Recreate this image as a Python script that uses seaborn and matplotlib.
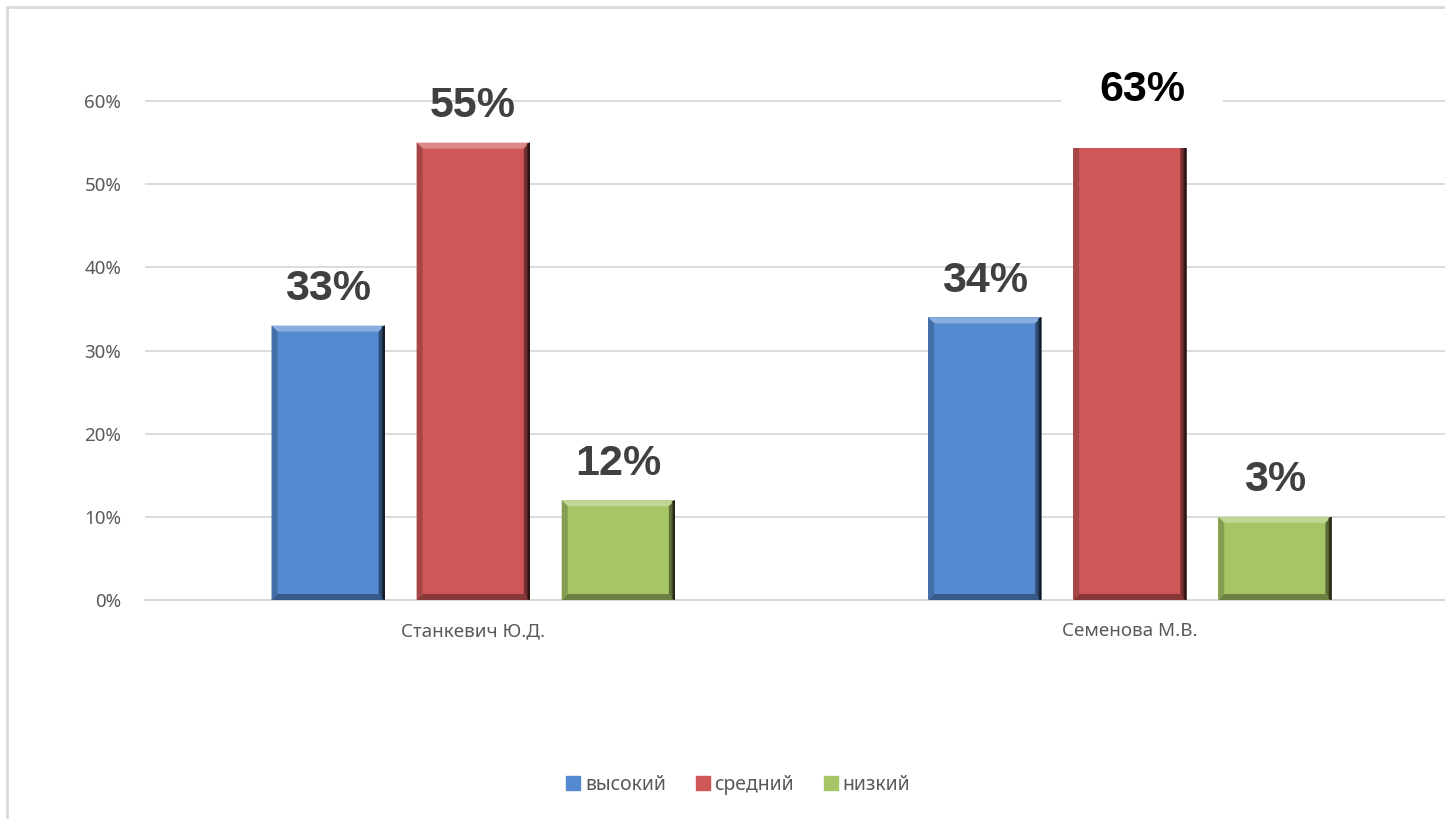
import matplotlib
matplotlib.use('Agg')
import matplotlib.pyplot as plt
import seaborn as sns
import pandas as pd
from matplotlib.patches import Polygon, Rectangle
from matplotlib.lines import Line2D
from matplotlib.transforms import IdentityTransform
from matplotlib.ticker import PercentFormatter
from matplotlib.colors import to_rgb

teachers = ['Станкевич Ю.Д.', 'Семенова М.В.']
levels = ['высокий', 'средний', 'низкий']
# bar heights as drawn, percent
vysokiy = [33, 34]
sredniy = [55, 63]
nizkiy = [12, 10]
# data labels as printed on the chart
label_text = [['33%', '34%'], ['55%', '63%'], ['12%', '3%']]
colors = ['#558AD0', '#CF5757', '#A6C566']
yticks = [0, 10, 20, 30, 40, 50, 60]

df = pd.DataFrame({
    'teacher': teachers * 3,
    'level': [lv for lv in levels for _ in teachers],
    'value': vysokiy + sredniy + nizkiy,
})

sns.set_style('white')
plt.rcParams['font.family'] = ['Noto Sans', 'DejaVu Sans']
grey = '#595959'
line_grey = '#D9D9D9'

fig = plt.figure(figsize=(14.45, 8.19), dpi=100)
ax = fig.add_axes([0.1003, 0.2674, 0.9087, 0.660])

sns.barplot(data=df, x='teacher', y='value', hue='level', palette=colors,
            width=0.663, gap=0.22, saturation=1, legend=False, ax=ax,
            edgecolor='none', zorder=2)

ax.set_xlim(-0.5, 1.5)
ax.set_ylim(0, 65)
ax.set_yticks(yticks)
ax.yaxis.set_major_formatter(PercentFormatter(decimals=0))
ax.grid(axis='y', color=line_grey, lw=1.3, zorder=0)
ax.set_axisbelow(True)
for s in ['top', 'right', 'left']:
    ax.spines[s].set_visible(False)
ax.spines['bottom'].set_color(line_grey)
ax.spines['bottom'].set_linewidth(1.5)
ax.set_xlabel('')
ax.set_ylabel('')
ax.tick_params(axis='y', length=0, pad=17, labelsize=13.5, labelcolor=grey)
ax.tick_params(axis='x', length=0, pad=16, labelsize=13.5, labelcolor=grey)
ax.set_xticks([-0.5, 0.5, 1.5], minor=True)
ax.tick_params(axis='x', which='minor', length=7, width=1.5, color=line_grey)

# data labels
anns = []
for i, cont in enumerate(ax.containers):
    a = ax.bar_label(cont, labels=label_text[i], padding=12, fontsize=31,
                     fontweight='bold', color='#404040',
                     family=['Liberation Sans', 'DejaVu Sans'], zorder=10)
    anns.append(a)

# the 63% label sits inside a white box on top of its bar
big = anns[1][1]
big.set_va('center')
big.xyann = (9, -10)
big.set_color('black')
big.set_bbox(dict(boxstyle='square,pad=0.88', fc='white', ec='none'))

# bevel effect from bar geometry
fig.canvas.draw()


def shade(c, f):
    r, g, b = to_rgb(c)
    if f >= 0:
        return (r + (1 - r) * f, g + (1 - g) * f, b + (1 - b) * f)
    return (r * (1 + f), g * (1 + f), b * (1 + f))


bars = [p for cont in ax.containers for p in cont]
bar_cols = [colors[i] for i, cont in enumerate(ax.containers) for _ in cont]
tr = IdentityTransform()
b = 6
for p, c in zip(bars, bar_cols):
    bb = p.get_window_extent()
    x0, y0, x1, y1 = bb.x0, bb.y0, bb.x1, bb.y1
    polys = [
        ([(x0, y1), (x1, y1), (x1 - b, y1 - b), (x0 + b, y1 - b)], shade(c, 0.3)),
        ([(x0, y0), (x1, y0), (x1 - b, y0 + b), (x0 + b, y0 + b)], shade(c, -0.35)),
        ([(x0, y0), (x0 + b, y0 + b), (x0 + b, y1 - b), (x0, y1)], shade(c, -0.2)),
        ([(x1, y0), (x1 - b, y0 + b), (x1 - b, y1 - b), (x1, y1)], shade(c, -0.45)),
    ]
    for pts, col in polys:
        ax.add_patch(Polygon(pts, closed=True, fc=col, ec='none',
                             transform=tr, zorder=3, clip_on=False))
    for k, f in enumerate([-0.6, -0.75, -0.85]):
        w = 3 - k
        ax.add_patch(Polygon([(x1 - w, y0 + 1), (x1, y0), (x1, y1), (x1 - w, y1 - 1)],
                             closed=True, fc=shade(c, f), ec='none',
                             transform=tr, zorder=4, clip_on=False))

# legend
handles = [Line2D([], [], marker='s', ls='', markersize=10, color=c) for c in colors]
fig.legend(handles, levels, loc='center', bbox_to_anchor=(0.51, 0.0415), ncol=3,
           frameon=False, handletextpad=0.1, columnspacing=1.4, fontsize=14,
           labelcolor=grey, handlelength=1.0)

# outer frame
fig.patches.append(Rectangle((7 / 1445, -0.05), 1.1, 1.05 - 7 / 819,
                             transform=fig.transFigure, fill=False,
                             ec=line_grey, lw=2))

fig.savefig('out.png', dpi=100)
